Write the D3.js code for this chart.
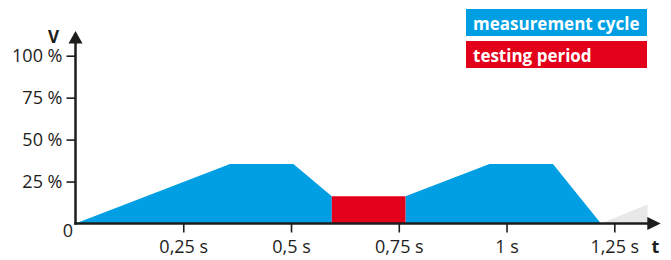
<!DOCTYPE html>
<html>
<head>
<meta charset="utf-8">
<script src="https://cdn.jsdelivr.net/npm/d3@7"></script>
<style>
  html, body { margin: 0; padding: 0; background: #fff; }
  svg { display: block; font-family: "Open Sans", sans-serif; }
</style>
</head>
<body>
<svg id="main_chart" width="671" height="260"></svg>
<script>
// values (t in seconds, V in %)
const cycleAT = [0, 0.3585, 0.5055, 0.5946];
const cycleAV = [0, 35.5, 35.5, 16.25];
const testT = [0.5946, 0.7655];
const testV = [16.25, 16.25];
const cycleBT = [0.7655, 0.9605, 1.1077, 1.219];
const cycleBV = [16.25, 35.5, 35.5, 0];
const nextT = [1.219, 1.327];
const nextV = [0, 11.3];

const xTickVals = [0.25, 0.5, 0.75, 1, 1.25];
const xTickLabels = ["0,25 s", "0,5 s", "0,75 s", "1 s", "1,25 s"];
const yTickVals = [25, 50, 75, 100];
const yTickLabels = ["25 %", "50 %", "75 %", "100 %"];
const legendLabels = ["measurement cycle", "testing period"];

const BLUE = "#009fe3", RED = "#e3001b", GREY = "#e8e8e8", INK = "#1d1d1b";

let svg = d3.select("#main_chart");

let xScale = d3.scaleLinear().domain([0, 1.25]).range([75.5, 614.3]);
let yScale = d3.scaleLinear().domain([0, 100]).range([223.5, 55.7]);

function pts(ts, vs) { return ts.map((t, i) => ({t: t, v: vs[i]})); }

let area = d3.area()
    .x(d => xScale(d.t))
    .y0(yScale(0))
    .y1(d => yScale(d.v));

let shapes = [
    {data: pts(nextT, nextV), color: GREY},
    {data: pts(cycleAT, cycleAV), color: BLUE},
    {data: pts(cycleBT, cycleBV), color: BLUE},
    {data: pts(testT, testV), color: RED}
];

svg.append("g").selectAll("path")
    .data(shapes)
    .enter().append("path")
    .attr("d", d => area(d.data))
    .style("fill", d => d.color);

// y axis
let yAxis = svg.append("g")
    .attr("transform", "translate(" + xScale(0) + ",0)")
    .call(d3.axisLeft(yScale)
        .tickValues(yTickVals)
        .tickSize(9)
        .tickPadding(4)
        .tickFormat((d, i) => yTickLabels[i]));
yAxis.select(".domain").remove();
yAxis.selectAll("line").attr("stroke", INK).attr("stroke-width", 1.6);
yAxis.selectAll("text").attr("fill", INK).style("font-size", "18px")
    .style("font-family", "Open Sans, sans-serif");

// x axis
let xAxis = svg.append("g")
    .attr("transform", "translate(0," + yScale(0) + ")")
    .call(d3.axisBottom(xScale)
        .tickValues(xTickVals)
        .tickSize(9)
        .tickFormat((d, i) => xTickLabels[i]));
xAxis.select(".domain").remove();
xAxis.selectAll("line").attr("stroke", INK).attr("stroke-width", 1.6);
xAxis.selectAll("text").attr("fill", INK).attr("y", 29.5).attr("dy", 0)
    .style("font-size", "18px").style("font-family", "Open Sans, sans-serif");

// axis lines with arrows
let x0 = xScale(0), y0 = yScale(0);
svg.append("line").attr("x1", x0).attr("x2", x0).attr("y1", y0 + 1.2).attr("y2", 42)
    .attr("stroke", INK).attr("stroke-width", 2.5);
svg.append("line").attr("x1", x0 - 1.2).attr("x2", 648).attr("y1", y0).attr("y2", y0)
    .attr("stroke", INK).attr("stroke-width", 2.5);
svg.append("path")
    .attr("d", "M" + x0 + ",31 L" + (x0 + 7) + ",43.5 L" + (x0 - 7) + ",43.5 Z")
    .style("fill", INK);
svg.append("path")
    .attr("d", "M660.7," + y0 + " L647.3," + (y0 - 6.5) + " L647.3," + (y0 + 6.5) + " Z")
    .style("fill", INK);

svg.append("text").attr("x", 68).attr("y", 236.7).attr("text-anchor", "middle")
    .attr("fill", INK).style("font-size", "18px").text("0");
svg.append("text").attr("x", 53.5).attr("y", 42.5).attr("text-anchor", "middle")
    .attr("fill", INK).style("font-size", "17px").style("font-weight", 700).text("V");
svg.append("text").attr("x", 655.5).attr("y", 253).attr("text-anchor", "middle")
    .attr("fill", INK).style("font-size", "18px").style("font-weight", 700).text("t");

// legend
let legend = svg.append("g").attr("transform", "translate(466,9)");
let items = legend.selectAll("g")
    .data(legendLabels)
    .enter().append("g")
    .attr("transform", (d, i) => "translate(0," + (i * 32) + ")");
items.append("rect")
    .attr("width", 181).attr("height", 27)
    .style("fill", (d, i) => i === 0 ? BLUE : RED);
items.append("text")
    .attr("x", 7).attr("y", 20.5)
    .attr("fill", "#fff")
    .style("font-size", "17px").style("font-weight", 700)
    .text(d => d);
</script>
</body>
</html>
